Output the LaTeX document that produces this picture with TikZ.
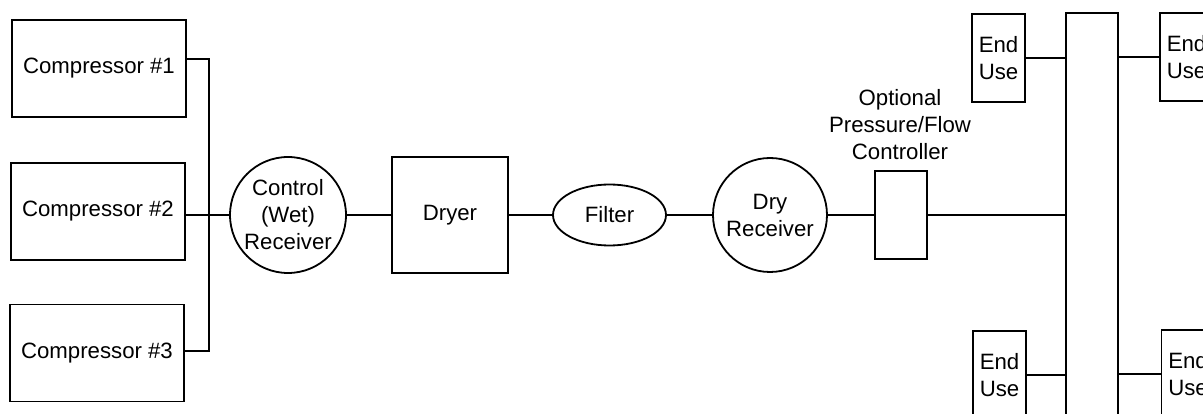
\documentclass[tikz,border=0pt]{standalone}
\usepackage{fontspec}
\setmainfont{Liberation Sans}
\usetikzlibrary{shapes.geometric}
\tikzset{
  unit/.style={draw, line width=1.8pt, inner sep=0pt, align=center, font=\fontsize{22.2}{27}\selectfont},
  box/.style={unit, rectangle},
  tank/.style={unit, circle},
  pipe/.style={line width=1.4pt}
}
\begin{document}
\begin{tikzpicture}[x=1pt,y=-1pt]
\useasboundingbox (0,0) rectangle (1203,414);
\clip (0,0) rectangle (1203,414);

\node[box, minimum width=174, minimum height=97] (comp1) at (99,68.5) {Compressor \#1};
\node[box, minimum width=174, minimum height=97] (comp2) at (98,211.5) {Compressor \#2};
\node[box, minimum width=174, minimum height=97] (comp3) at (97,353) {Compressor \#3};
\coordinate (bustop) at (209,59);
\coordinate (busbot) at (209,351);

\node[tank, minimum size=116] (wetrcv) at (288,215) {Control\\(Wet)\\Receiver};
\node[box, minimum width=116, minimum height=116] (dryer) at (450,215) {Dryer};
\node[unit, ellipse, minimum width=113, minimum height=61] (filter) at (609.5,215) {Filter};
\node[tank, minimum size=114] (dryrcv) at (770,215) {Dry\\Receiver};
\node[box, minimum width=52, minimum height=88] (ctrl) at (901,215) {};
\node[align=center, font=\fontsize{22.2}{27}\selectfont] (ctrllbl) at (900,125) {Optional\\Pressure/Flow\\Controller};

\node[box, minimum width=52, minimum height=427] (header) at (1092,226.5) {};
\node[box, minimum width=53, minimum height=88] (eu1) at (998.5,58) {End\\Use};
\node[box, minimum width=53, minimum height=88] (eu2) at (1186.5,57) {End\\Use};
\node[box, minimum width=53, minimum height=88] (eu3) at (999.5,375) {End\\Use};
\node[box, minimum width=53, minimum height=88] (eu4) at (1188,374) {End\\Use};

% compressors to the wet receiver
\draw[pipe] (comp1.east |- bustop) -- (bustop) -- (busbot) -- (comp3.east |- busbot);
\draw[pipe] (comp2.east |- wetrcv.west) -- (wetrcv.west);

% main line
\draw[pipe] (wetrcv) -- (dryer);
\draw[pipe] (dryer) -- (filter);
\draw[pipe] (filter) -- (dryrcv);
\draw[pipe] (dryrcv) -- (ctrl);
\draw[pipe] (ctrl.east) -- (ctrl.east -| header.west);

% end uses
\draw[pipe] (eu1.east) -- (eu1.east -| header.west);
\draw[pipe] (header.east |- eu2.west) -- (eu2.west);
\draw[pipe] (eu3.east) -- (eu3.east -| header.west);
\draw[pipe] (header.east |- eu4.west) -- (eu4.west);
\end{tikzpicture}
\end{document}
